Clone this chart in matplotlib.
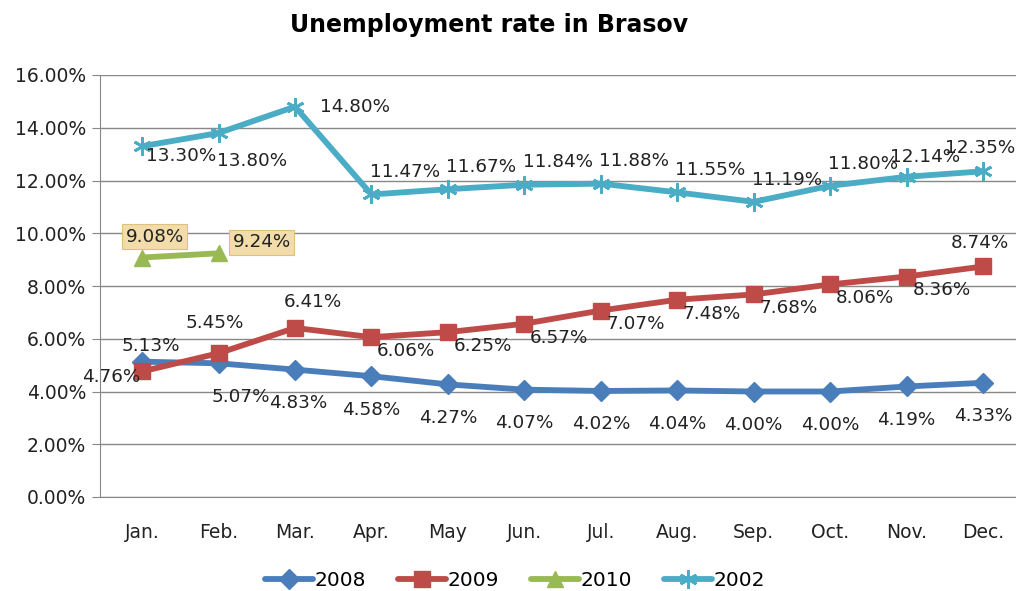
import matplotlib.pyplot as plt
from matplotlib.ticker import FuncFormatter

months = ['Jan.', 'Feb.', 'Mar.', 'Apr.', 'May', 'Jun.', 'Jul.', 'Aug.', 'Sep.', 'Oct.', 'Nov.', 'Dec.']
rate_2008 = [5.13, 5.07, 4.83, 4.58, 4.27, 4.07, 4.02, 4.04, 4.00, 4.00, 4.19, 4.33]
rate_2009 = [4.76, 5.45, 6.41, 6.06, 6.25, 6.57, 7.07, 7.48, 7.68, 8.06, 8.36, 8.74]
rate_2010 = [9.08, 9.24]
rate_2002 = [13.30, 13.80, 14.80, 11.47, 11.67, 11.84, 11.88, 11.55, 11.19, 11.80, 12.14, 12.35]

# label offsets in points (x, y)
off_2008 = [(6, 11), (16, -24), (2, -24)] + [(0, -24)] * 9
off_2009 = [(-22, -4), (-3, 22), (13, 19)] + [(25, -10)] * 8 + [(-2, 17)]
off_2010 = [(9, 15), (31, 8)]
off_2002 = [(28, -7), (24, -20), (43, 0)] + [(24, 16)] * 7 + [(13, 14), (-2, 17)]

fig = plt.figure(figsize=(10.16, 5.91), dpi=100)
ax = fig.add_axes([100 / 1016, 1 - 497 / 591, 916 / 1016, 422 / 591])

x = list(range(len(months)))
series = [
    ('2008', rate_2008, '#4A7EBB', 'D', 10.5, off_2008),
    ('2009', rate_2009, '#BE4B48', 's', 12, off_2009),
    ('2010', rate_2010, '#98B954', '^', 12, off_2010),
    ('2002', rate_2002, '#4BACC6', (6, 2, 0), 13, off_2002),
]
for name, vals, col, mk, ms, offs in series:
    xs = x[:len(vals)]
    ax.plot(xs, vals, color=col, lw=4.2, marker=mk, ms=ms, mec=col, mew=2 if name == '2002' else 1,
            label=name, solid_capstyle='round')
    for xi, v, o in zip(xs, vals, offs):
        if name == '2010':
            ax.annotate(f'{v:.2f}%', (xi, v), xytext=o, textcoords='offset points', ha='center', va='center',
                        fontsize=13.2, color='#222222',
                        bbox=dict(boxstyle='square,pad=0.2', fc='#F2DCAA', ec='#E0C080', lw=0.8))
        else:
            ax.annotate(f'{v:.2f}%', (xi, v), xytext=o, textcoords='offset points', ha='center', va='center',
                        fontsize=13.2, color='#222222')

ax.set_xlim(-0.55, 11.43)
ax.set_ylim(0, 16)
ax.set_yticks(range(0, 17, 2))
ax.yaxis.set_major_formatter(FuncFormatter(lambda v, p: f'{v:.2f}%'))
ax.set_xticks(x)
ax.set_xticklabels(months)
ax.tick_params(axis='both', labelsize=13.5, colors='#222222')
ax.tick_params(axis='x', length=0, pad=19)
ax.tick_params(axis='y', length=6, color='#888888', pad=4)
ax.grid(axis='y', color='#888888', lw=1)
ax.set_axisbelow(True)
for s in ['top', 'right']:
    ax.spines[s].set_visible(False)
for s in ['left', 'bottom']:
    ax.spines[s].set_color('#888888')

fig.suptitle('Unemployment rate in Brasov', x=489 / 1016, fontsize=17, fontweight='bold', y=0.978)
fig.legend(loc='center', bbox_to_anchor=(515 / 1016, 0.017), ncol=4, frameon=False, fontsize=14.5,
           handlelength=2.4, columnspacing=1.6, handletextpad=0.05)

plt.savefig('out.png', dpi=100)
